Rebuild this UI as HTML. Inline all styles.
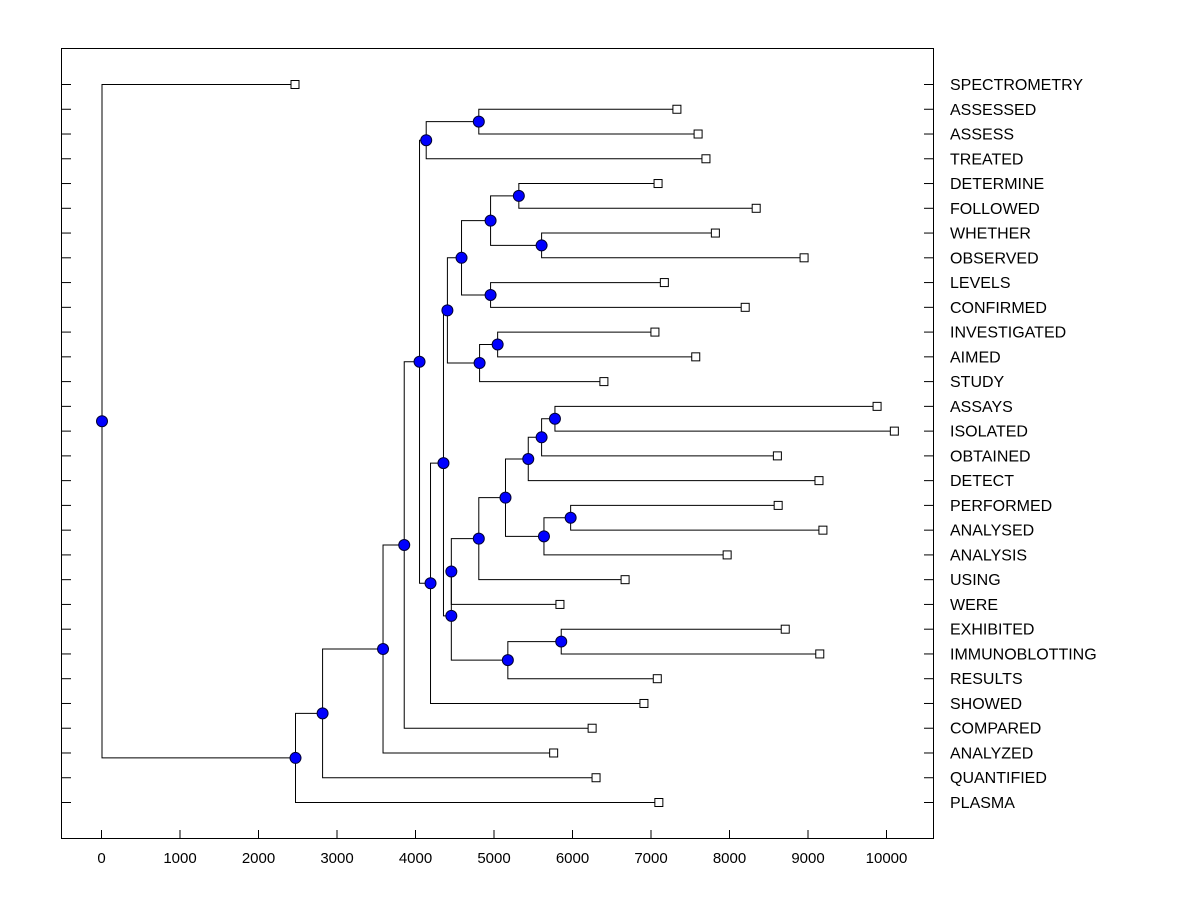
<!DOCTYPE html>
<html><head><meta charset="utf-8"><style>
html,body{margin:0;padding:0;background:#fff;}
svg{display:block;font-family:"Liberation Sans",Arial,sans-serif;}
</style></head><body>
<svg id="chart" width="1200" height="900" viewBox="0 0 1200 900" xmlns="http://www.w3.org/2000/svg">
<rect x="61.5" y="48.5" width="872" height="790" fill="#fff" stroke="#000" stroke-width="1"/>
<g id="axes"></g><g id="links"></g><g id="marks"></g>
</svg>
<script>
// Leaf labels (top to bottom) and leaf heights
const leafLabels = ["SPECTROMETRY","ASSESSED","ASSESS","TREATED","DETERMINE","FOLLOWED","WHETHER","OBSERVED","LEVELS","CONFIRMED","INVESTIGATED","AIMED","STUDY","ASSAYS","ISOLATED","OBTAINED","DETECT","PERFORMED","ANALYSED","ANALYSIS","USING","WERE","EXHIBITED","IMMUNOBLOTTING","RESULTS","SHOWED","COMPARED","ANALYZED","QUANTIFIED","PLASMA"];
const leafValues = [2465,7330,7600,7700,7090,8340,7820,8950,7170,8200,7050,7570,6400,9880,10100,8610,9140,8620,9190,7970,6670,5840,8710,9150,7080,6910,6250,5760,6300,7100];
// Merge k creates node "n"+k; children are leaf indices (numbers) or earlier node ids
const mergeChildA = [1,"n0",4,6,"n2",8,"n4",10,"n7","n6",13,"n10","n11",17,"n13","n12","n15","n16",22,"n18","n17","n9","n21","n1","n23","n24","n25","n26",0];
const mergeChildB = [2,3,5,7,"n3",9,"n5",11,12,"n8",14,15,16,18,19,"n14",20,21,23,24,"n19","n20",25,"n22",26,27,28,29,"n27"];
const mergeHeights = [4800,4130,5310,5600,4950,4950,4580,5040,4810,4400,5770,5600,5430,5970,5630,5140,4800,4450,5850,5170,4450,4350,4185,4045,3850,3580,2810,2465,0];
const xTicks = [0,1000,2000,3000,4000,5000,6000,7000,8000,9000,10000];

const NS="http://www.w3.org/2000/svg";
const X = v => 101.5 + v*0.0785;
const Y = i => 84 + i*(802-84)/29;
function mk(tag, attrs, parent){const e=document.createElementNS(NS,tag);for(const k in attrs)e.setAttribute(k,attrs[k]);parent.appendChild(e);return e;}
const axes=document.getElementById('axes'), links=document.getElementById('links'), marks=document.getElementById('marks');

xTicks.forEach(t=>{
  const l=mk('line',{x1:X(t),x2:X(t),y1:830,y2:838,stroke:'#000'},axes);
  
  
  const tx=mk('text',{x:X(t),y:863,'text-anchor':'middle','font-size':'15'},axes);
  tx.textContent=t;
  
  
});
leafLabels.forEach((lab,i)=>{
  const y=Y(i)+0.5;
  const a=mk('line',{x1:61,x2:71,y1:y,y2:y,stroke:'#000'},axes);
  
  
  const b=mk('line',{x1:924,x2:933,y1:y,y2:y,stroke:'#000'},axes);
  
  
  const tx=mk('text',{x:950,y:Y(i)+6,'font-size':'16'},axes);
  tx.textContent=lab;
  
  
});

const nodes={};
function pos(c){
  if(typeof c==='number') return {x:X(leafValues[c]),y:Y(c)};
  return nodes[c];
}
for(let k=0;k<mergeHeights.length;k++){
  const a=pos(mergeChildA[k]), b=pos(mergeChildB[k]);
  nodes['n'+k]={x:X(mergeHeights[k]),y:(a.y+b.y)/2,a:a,b:b};
}
for(let k=0;k<mergeHeights.length;k++){
  const n=nodes['n'+k];
  const p=mk('path',{d:`M${n.a.x},${n.a.y+0.5}H${n.x+0.5}V${n.b.y+0.5}H${n.b.x}`,fill:'none',stroke:'#000','stroke-width':'1'},links);
  
  
}
leafValues.forEach((v,i)=>{
  const r=mk('rect',{x:X(v)-4,y:Y(i)-3.5,width:8,height:8,fill:'#fff',stroke:'#000'},marks);
  
  
});
for(let k=0;k<mergeHeights.length;k++){
  const n=nodes['n'+k];
  const c=mk('circle',{cx:n.x+0.5,cy:n.y+0.5,r:5.5,fill:'#0000ff',stroke:'#000033','stroke-width':'1'},marks);
  
  
}
</script>
</body></html>
